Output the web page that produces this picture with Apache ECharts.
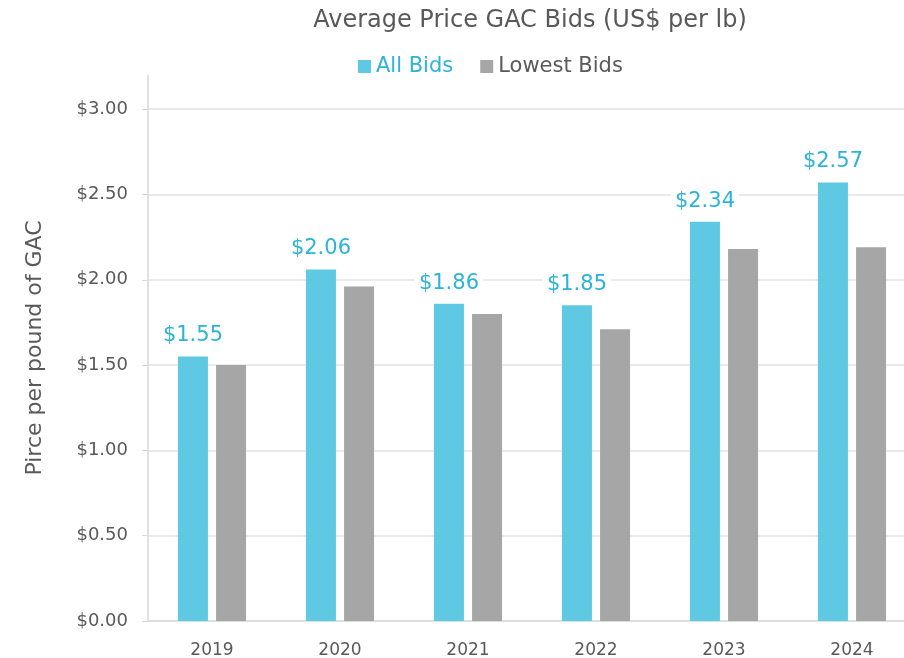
<!DOCTYPE html>
<html>
<head>
<meta charset="utf-8">
<script src="https://cdn.jsdelivr.net/npm/echarts@6/dist/echarts.min.js"></script>
<style>
  html, body { margin: 0; padding: 0; background: #fff; }
  #main { width: 904px; height: 658px; }
</style>
</head>
<body>
<div id="main"></div>
<script>
var years = ['2019', '2020', '2021', '2022', '2023', '2024'];
var allBids = [1.55, 2.06, 1.86, 1.85, 2.34, 2.57];
var lowestBids = [1.50, 1.96, 1.80, 1.71, 2.18, 2.19];

var myChart = echarts.init(document.getElementById('main'));
var font = '"DejaVu Sans", sans-serif';

var option = {
  textStyle: { fontFamily: font },
  title: {
    text: 'Average Price GAC Bids (US$ per lb)',
    left: 525,
    textAlign: 'center',
    top: 4,
    textStyle: { fontSize: 24, fontWeight: 'normal', color: '#595959', fontFamily: font }
  },
  legend: {
    top: 51,
    left: 353,
    itemWidth: 13,
    itemHeight: 13,
    itemGap: 27,
    icon: 'rect',
    textStyle: { fontSize: 21, color: '#595959', fontFamily: font },
    data: [
      { name: 'All Bids', textStyle: { color: '#2BB3D9' } },
      { name: 'Lowest Bids' }
    ]
  },
  // plot runs a little past the right edge, like the original
  grid: { left: 148, width: 768, top: 75, bottom: 37, outerBoundsMode: 'none' },
  xAxis: {
    type: 'category',
    data: years,
    axisLine: { lineStyle: { color: '#d9d9d9', width: 1.5 } },
    axisTick: { show: false },
    axisLabel: { fontSize: 17, color: '#595959', margin: 21, fontFamily: font }
  },
  yAxis: {
    type: 'value',
    min: 0,
    max: 3.2,
    interval: 0.5,
    name: 'Pirce per pound of GAC',
    nameLocation: 'middle',
    nameGap: 102,
    nameTextStyle: { fontSize: 22, color: '#595959', fontFamily: font },
    axisLine: { show: true, lineStyle: { color: '#d9d9d9', width: 1.5 } },
    axisTick: { show: true, length: 6, lineStyle: { color: '#d9d9d9' } },
    axisLabel: {
      fontSize: 18, color: '#595959', margin: 20, fontFamily: font,
      showMaxLabel: false,
      formatter: function (v) { return v > 3.01 ? '' : '$' + v.toFixed(2); }
    },
    splitLine: { showMaxLine: false, lineStyle: { color: '#e3e3e3', width: 1.5 } }
  },
  series: [
    {
      name: 'All Bids',
      type: 'bar',
      data: allBids,
      barWidth: 30,
      barGap: '27%',
      itemStyle: { color: '#5FC9E3' },
      label: {
        show: true,
        position: 'top',
        distance: 10,
        fontSize: 21,
        color: '#2BB3D9',
        fontFamily: font,
        backgroundColor: '#fff',
        padding: [0, 4],
        formatter: function (p) { return '$' + p.value.toFixed(2); }
      },
      z: 3
    },
    {
      name: 'Lowest Bids',
      type: 'bar',
      data: lowestBids,
      barWidth: 30,
      itemStyle: { color: '#A6A6A6' }
    }
  ]
};

myChart.setOption(option);
</script>
</body>
</html>
